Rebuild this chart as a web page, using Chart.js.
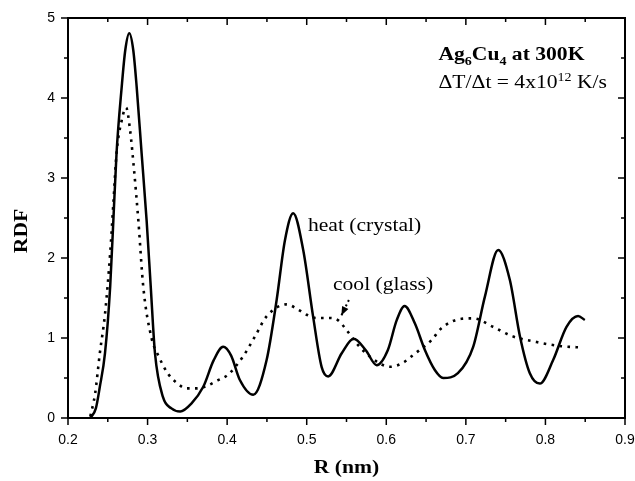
<!DOCTYPE html>
<html>
<head>
<meta charset="utf-8">
<title>RDF Ag6Cu4</title>
<script src="https://cdn.jsdelivr.net/npm/chart.js@4.4.0/dist/chart.umd.min.js"></script>
<style>
  html, body { margin: 0; padding: 0; background: #fff; }
</style>
</head>
<body>
<canvas id="rdfChart" width="635" height="481"></canvas>
<script>
// ================= DATA =================
// heat (crystal) - solid line
const heatR = [0.228, 0.235, 0.240, 0.2465, 0.253, 0.257, 0.261, 0.2675, 0.272, 0.277,
    0.282, 0.2863, 0.2925, 0.2988, 0.304, 0.3093, 0.3194, 0.330, 0.341, 0.355,
    0.370, 0.383, 0.395, 0.405, 0.416, 0.4328, 0.4496, 0.4622, 0.4726, 0.483,
    0.4956, 0.508, 0.5187, 0.527, 0.544, 0.559, 0.574, 0.588, 0.602, 0.613,
    0.623, 0.636, 0.6485, 0.661, 0.6715, 0.690, 0.7092, 0.724, 0.7406, 0.7553,
    0.768, 0.7804, 0.793, 0.8097, 0.8265, 0.841, 0.8495];
const heatRDF = [0.0, 0.12, 0.39, 0.81, 1.64, 2.47, 3.31, 4.14, 4.6, 4.81,
    4.6, 4.14, 3.31, 2.47, 1.64, 0.81, 0.26, 0.12, 0.08, 0.18,
    0.39, 0.72, 0.89, 0.78, 0.475, 0.29, 0.725, 1.475, 2.22, 2.56,
    2.1, 1.27, 0.64, 0.52, 0.81, 0.99, 0.85, 0.66, 0.85, 1.22,
    1.40, 1.18, 0.85, 0.6, 0.5, 0.56, 0.89, 1.52, 2.1, 1.725,
    1.02, 0.56, 0.43, 0.725, 1.14, 1.275, 1.225];

// cool (glass) - dotted line
const coolR = [0.228, 0.234, 0.240, 0.2465, 0.253, 0.257, 0.261, 0.2675, 0.273, 0.278,
    0.283, 0.2884, 0.2946, 0.305, 0.3135, 0.326, 0.3365, 0.349, 0.362, 0.374,
    0.388, 0.401, 0.420, 0.435, 0.4496, 0.4748, 0.490, 0.500, 0.512, 0.529,
    0.5396, 0.550, 0.5647, 0.5815, 0.6045, 0.621, 0.634, 0.657, 0.669, 0.6946,
    0.709, 0.734, 0.759, 0.7888, 0.818, 0.8474];
const coolRDF = [0.02, 0.3, 0.81, 1.3, 2.06, 2.68, 3.31, 3.72, 3.88, 3.6,
    3.1, 2.47, 1.64, 1.0, 0.78, 0.55, 0.44, 0.37, 0.37, 0.40,
    0.47, 0.54, 0.77, 1.02, 1.27, 1.42, 1.35, 1.29, 1.25, 1.25,
    1.22, 1.1, 0.91, 0.75, 0.64, 0.69, 0.79, 0.975, 1.12, 1.24,
    1.245, 1.14, 1.02, 0.95, 0.9, 0.88];

// axis ticks
const xTickValues = [0.2, 0.3, 0.4, 0.5, 0.6, 0.7, 0.8, 0.9];
const yTickValues = [0, 1, 2, 3, 4, 5];

const xTitle = 'R (nm)';
const yTitle = 'RDF';

// ================= TEXT HELPERS =================
const serif = '"Liberation Serif", "Times New Roman", serif';
const textStretch = 1.2; // the scanned figure is a bit wide

// width of a list of runs {t, sub, sup}
function runsWidth(ctx, runs, size, bold) {
    let w = 0;
    runs.forEach(r => {
        const s = (r.sub || r.sup) ? size * 0.65 : size;
        ctx.font = (bold ? 'bold ' : '') + s + 'px ' + serif;
        w += ctx.measureText(r.t).width;
    });
    return w;
}

function drawRuns(ctx, x, y, runs, size, bold, align, rotate) {
    ctx.save();
    ctx.translate(x, y);
    if (rotate) ctx.rotate(rotate);
    ctx.scale(textStretch, 1);
    ctx.fillStyle = '#000';
    ctx.textBaseline = 'alphabetic';
    ctx.textAlign = 'left';
    let cx = 0;
    if (align === 'center') cx = -runsWidth(ctx, runs, size, bold) / 2;
    runs.forEach(r => {
        const s = (r.sub || r.sup) ? size * 0.65 : size;
        ctx.font = (bold ? 'bold ' : '') + s + 'px ' + serif;
        let dy = 0;
        if (r.sub) dy = size * 0.25;
        if (r.sup) dy = -size * 0.4;
        ctx.fillText(r.t, cx, dy);
        cx += ctx.measureText(r.t).width;
    });
    ctx.restore();
}

// ================= FRAME, TICKS & LABELS PLUGIN =================
const framePlugin = {
    id: 'framePlugin',
    afterDraw(chart) {
        const ctx = chart.ctx;
        const a = chart.chartArea;
        const xs = chart.scales.x, ys = chart.scales.y;

        ctx.save();
        ctx.strokeStyle = '#000';
        ctx.lineWidth = 2;
        ctx.strokeRect(a.left, a.top, a.right - a.left, a.bottom - a.top);

        ctx.lineWidth = 1.5;
        ctx.beginPath();
        // x ticks: major on tick values, minor halfway
        for (let i = 0; i < xTickValues.length; i++) {
            const px = xs.getPixelForValue(xTickValues[i]);
            ctx.moveTo(px, a.bottom); ctx.lineTo(px, a.bottom + 7);
            ctx.moveTo(px, a.top); ctx.lineTo(px, a.top + 7);
            if (i < xTickValues.length - 1) {
                const pm = xs.getPixelForValue((xTickValues[i] + xTickValues[i + 1]) / 2);
                ctx.moveTo(pm, a.bottom); ctx.lineTo(pm, a.bottom + 4);
                ctx.moveTo(pm, a.top); ctx.lineTo(pm, a.top + 4);
            }
        }
        for (let i = 0; i < yTickValues.length; i++) {
            const py = ys.getPixelForValue(yTickValues[i]);
            ctx.moveTo(a.left, py); ctx.lineTo(a.left - 7, py);
            ctx.moveTo(a.right, py); ctx.lineTo(a.right - 7, py);
            if (i < yTickValues.length - 1) {
                const pm = ys.getPixelForValue((yTickValues[i] + yTickValues[i + 1]) / 2);
                ctx.moveTo(a.left, pm); ctx.lineTo(a.left - 4, pm);
                ctx.moveTo(a.right, pm); ctx.lineTo(a.right - 4, pm);
            }
        }
        ctx.stroke();
        ctx.restore();

        // axis titles
        drawRuns(ctx, (a.left + a.right) / 2, 473, [{ t: xTitle }], 18, true, 'center');
        drawRuns(ctx, 27, 231, [{ t: yTitle }], 18, true, 'center', -Math.PI / 2);

        // annotations (placed in data units)
        const X = v => xs.getPixelForValue(v), Y = v => ys.getPixelForValue(v);
        drawRuns(ctx, X(0.6655), Y(4.475),
            [{ t: 'Ag' }, { t: '6', sub: true }, { t: 'Cu' }, { t: '4', sub: true }, { t: ' at 300K' }], 18, true);
        drawRuns(ctx, X(0.6655), Y(4.125),
            [{ t: '\u0394T/\u0394t = 4x10' }, { t: '12', sup: true }, { t: ' K/s' }], 18, false);
        drawRuns(ctx, X(0.5015), Y(2.34), [{ t: 'heat (crystal)' }], 18, false);
        drawRuns(ctx, X(0.533), Y(1.6), [{ t: 'cool (glass)' }], 18, false);

        // dotted arrow from "cool" label to the dotted curve
        const x0 = X(0.553), y0 = Y(1.475), x1 = X(0.5435), y1 = Y(1.28);
        ctx.save();
        ctx.strokeStyle = '#000';
        ctx.fillStyle = '#000';
        ctx.lineWidth = 2;
        ctx.setLineDash([2, 3]);
        ctx.beginPath();
        ctx.moveTo(x0, y0); ctx.lineTo(x1, y1);
        ctx.stroke();
        ctx.setLineDash([]);
        const ang = Math.atan2(y1 - y0, x1 - x0);
        const len = 9, half = 3.5;
        ctx.beginPath();
        ctx.moveTo(x1, y1);
        ctx.lineTo(x1 - len * Math.cos(ang) + half * Math.sin(ang), y1 - len * Math.sin(ang) - half * Math.cos(ang));
        ctx.lineTo(x1 - len * Math.cos(ang) - half * Math.sin(ang), y1 - len * Math.sin(ang) + half * Math.cos(ang));
        ctx.closePath();
        ctx.fill();
        ctx.restore();
    }
};

// ================= CHART =================
function toPoints(xArr, yArr) {
    return xArr.map((x, i) => ({ x: x, y: yArr[i] }));
}

const tickFont = { family: '"Liberation Sans", Arial, sans-serif', size: 14 };

new Chart(document.getElementById('rdfChart').getContext('2d'), {
    type: 'line',
    data: {
        datasets: [
            {
                label: 'heat (crystal)',
                data: toPoints(heatR, heatRDF),
                borderColor: '#000',
                borderWidth: 2.5,
                pointRadius: 0,
                fill: false,
                cubicInterpolationMode: 'monotone'
            },
            {
                label: 'cool (glass)',
                data: toPoints(coolR, coolRDF),
                borderColor: '#000',
                borderWidth: 2.6,
                borderDash: [2.6, 5.4],
                pointRadius: 0,
                fill: false,
                cubicInterpolationMode: 'monotone'
            }
        ]
    },
    options: {
        responsive: false,
        animation: false,
        layout: { autoPadding: false, padding: { left: 0, right: 10, top: 18, bottom: 0 } },
        plugins: {
            legend: { display: false },
            tooltip: { enabled: false }
        },
        scales: {
            x: {
                type: 'linear',
                min: 0.2, max: 0.9,
                afterBuildTicks: s => { s.ticks = xTickValues.map(v => ({ value: v })); },
                // fixed height, and no extra room for the end labels
                afterFit: s => { s.height = 63; s.paddingLeft = 0; s.paddingRight = 0; },
                grid: { display: false, drawTicks: false },
                border: { display: false },
                ticks: {
                    color: '#000', font: tickFont, padding: 14, maxRotation: 0,
                    callback: v => v.toFixed(1)
                }
            },
            y: {
                type: 'linear',
                min: 0, max: 5,
                afterBuildTicks: s => { s.ticks = yTickValues.map(v => ({ value: v })); },
                afterFit: s => { s.width = 68; s.paddingTop = 0; s.paddingBottom = 0; },
                grid: { display: false, drawTicks: false },
                border: { display: false },
                ticks: {
                    color: '#000', font: tickFont, padding: 13,
                    callback: v => String(v)
                }
            }
        }
    },
    plugins: [framePlugin]
});
</script>
</body>
</html>
